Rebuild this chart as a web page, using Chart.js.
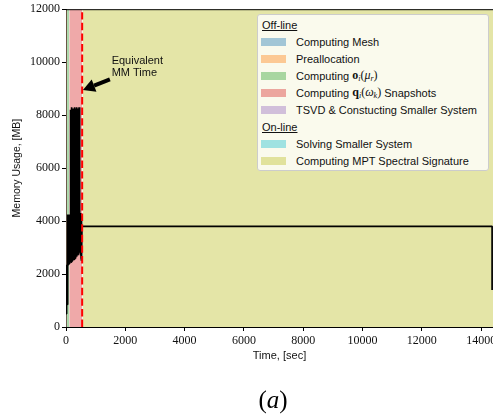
<!DOCTYPE html>
<html>
<head>
<meta charset="utf-8">
<script src="https://cdn.jsdelivr.net/npm/chart.js@4.4.1/dist/chart.umd.min.js"></script>
<style>
  body { margin: 0; background: #fff; }
  #wrap { position: relative; width: 493px; height: 419px; overflow: hidden; }
  #legend {
    position: absolute; left: 257px; top: 14px; width: 232px; height: 157px;
    box-sizing: border-box; border: 1px solid #cccccc; border-radius: 3px;
    background: #fafaed; padding-top: 1px;
    font-family: "Liberation Sans", sans-serif; font-size: 11px; color: #111;
  }
  .row { height: 17px; display: flex; align-items: center; white-space: nowrap; }
  .hd { padding-left: 4px; }
  .hd span { text-decoration: underline; }
  .sw { width: 25px; height: 8px; margin-left: 3px; margin-right: 10px; flex: none; }
  .m { font-family: "Liberation Serif", serif; font-size: 12px; margin-left: 3px; }
  .m b { font-weight: bold; }
  .m i { font-style: italic; }
  .m sub { font-size: 8px; font-style: italic; vertical-align: -2px; line-height: 0; }
  #cap {
    position: absolute; left: 273px; top: 385px; transform: translateX(-50%);
    font-family: "Liberation Serif", serif; font-size: 25px; line-height: 30px;
  }
  #cap i { font-style: italic; }
</style>
</head>
<body>
<div id="wrap">
  <canvas id="memory__chart" width="493" height="419"></canvas>
  <div id="legend"></div>
  <div id="cap">(<i>a</i>)</div>
</div>
<script>
// memory trace, time [sec] / usage [MB]
const MEM_TIME = [
  0, 10, 20, 30, 40, 50, 60, 70, 80, 90, 100, 110, 120, 130, 140, 150,
  160, 170, 180, 190, 200, 210, 220, 230, 240, 250, 260, 270, 280, 290, 300,
  310, 320, 330, 340, 350, 360, 370, 380, 390, 400, 410, 420, 430, 440, 450,
  460, 470, 480, 490, 500, 510, 520, 530, 540, 14370, 14370
];
const MEM_MB = [
  500, 2300, 650, 2350, 850, 2300, 4250, 2350, 4200, 2400, 4250, 2400, 4250, 2450, 4200, 2450,
  8200, 2450, 8250, 2450, 8300, 2500, 8250, 2500, 8200, 2550, 8250, 2550, 8300, 2600, 8250,
  2600, 8200, 2650, 8250, 2650, 8300, 2700, 8250, 2700, 8200, 2750, 8250, 2750, 8300, 2800,
  8250, 2800, 4250, 2700, 4300, 2600, 4200, 2500, 3800, 3800, 1400
];

// phases of the run (background spans)
const PHASES = [
  "Computing Mesh",
  "Preallocation",
  'Computing<span class="m"><b>o</b><sub>i</sub>(<i>μ</i><sub>r</sub>)</span>',
  'Computing<span class="m"><b>q</b><sub>i</sub>(<i>ω</i><sub>k</sub>)</span>&nbsp;Snapshots',
  "TSVD &amp; Constucting Smaller System",
  "Solving Smaller System",
  "Computing MPT Spectral Signature"
];
const PHASE_ONLINE = [false, false, false, false, false, true, true];
const PHASE_START = [0, 12, 35, 110, 540, 548, 555];
const PHASE_END = [12, 35, 110, 540, 548, 555, 14400];
const PHASE_COLORS = ["#a5c9e1", "#ffcc9f", "#abd9ab", "#efa9a9", "#d4c2e5", "#a2e5ec", "#e4e5a7"];
const LEGEND_COLORS = ["#a2c6d6", "#fcc994", "#a8d6a0", "#eca69e", "#d1bfda", "#9fe2e1", "#e1e29c"];

const MM_TIME = 545;
const X_TICKS = [0, 2000, 4000, 6000, 8000, 10000, 12000, 14000];
const X_MAX = 14400;
const Y_MAX = 12000;

// annotation placement (data coords)
const ARROW_TAIL = [1480, 9350];
const ARROW_TIP = [570, 8950];
const NOTE_AT = [1540, 10030];
const NOTE_LINES = ["Equivalent", "MM Time"];

const SERIF = '"Liberation Serif", "Times New Roman", serif';
const SANS = '"Liberation Sans", Arial, sans-serif';

// ================= LEGEND =================
const LEGEND = document.getElementById("legend");
let legendHtml = '<div class="row hd"><span>Off-line</span></div>';
PHASES.forEach((label, i) => {
  if (PHASE_ONLINE[i] && !PHASE_ONLINE[i - 1]) {
    legendHtml += '<div class="row hd"><span>On-line</span></div>';
  }
  legendHtml += `<div class="row"><span class="sw" style="background:${LEGEND_COLORS[i]}"></span>${label}</div>`;
});
LEGEND.innerHTML = legendHtml;

// ================= CHART =================
const datasets = [
  {
    label: "MM time",
    data: [{ x: MM_TIME, y: 0 }, { x: MM_TIME, y: Y_MAX }],
    borderColor: "#ff0000",
    borderWidth: 2,
    borderDash: [7.4, 3.2],
    pointRadius: 0,
    fill: false,
    order: 0,
  },
  {
    label: "Memory",
    data: MEM_TIME.map((t, i) => ({ x: t, y: MEM_MB[i] })),
    borderColor: "#000000",
    borderWidth: 1.7,
    borderJoinStyle: "bevel",
    pointRadius: 0,
    fill: false,
    order: 1,
  },
];

PHASES.forEach((label, i) => {
  datasets.push({
    label: label,
    data: [{ x: PHASE_START[i], y: Y_MAX }, { x: PHASE_END[i], y: Y_MAX }],
    borderWidth: 0,
    backgroundColor: PHASE_COLORS[i],
    fill: "origin",
    pointRadius: 0,
    order: 2,
  });
});

const annotate = {
  id: "annotate",
  afterDatasetsDraw(chart) {
    const { ctx, chartArea, scales } = chart;
    const x = scales.x;
    const y = scales.y;
    ctx.save();

    // top spine
    ctx.strokeStyle = "#000";
    ctx.lineWidth = 1;
    ctx.beginPath();
    ctx.moveTo(chartArea.left, chartArea.top + 0.5);
    ctx.lineTo(chartArea.right, chartArea.top + 0.5);
    ctx.stroke();

    // arrow
    const x0 = x.getPixelForValue(ARROW_TAIL[0]);
    const y0 = y.getPixelForValue(ARROW_TAIL[1]);
    const x1 = x.getPixelForValue(ARROW_TIP[0]);
    const y1 = y.getPixelForValue(ARROW_TIP[1]);
    const len = Math.hypot(x1 - x0, y1 - y0);
    const ux = (x1 - x0) / len;
    const uy = (y1 - y0) / len;
    const headLen = 12;
    const headHalf = 6.5;
    const bx = x1 - ux * headLen;
    const by = y1 - uy * headLen;
    ctx.strokeStyle = "#000";
    ctx.fillStyle = "#000";
    ctx.lineWidth = 4;
    ctx.beginPath();
    ctx.moveTo(x0, y0);
    ctx.lineTo(bx, by);
    ctx.stroke();
    ctx.beginPath();
    ctx.moveTo(x1, y1);
    ctx.lineTo(bx - uy * headHalf, by + ux * headHalf);
    ctx.lineTo(bx + uy * headHalf, by - ux * headHalf);
    ctx.closePath();
    ctx.fill();

    // note text
    ctx.font = "11px " + SANS;
    ctx.fillStyle = "#111";
    ctx.textAlign = "left";
    ctx.textBaseline = "middle";
    const tx = x.getPixelForValue(NOTE_AT[0]);
    const ty = y.getPixelForValue(NOTE_AT[1]);
    NOTE_LINES.forEach((line, i) => ctx.fillText(line, tx, ty + i * 11.5));

    ctx.restore();
  },
};

new Chart(document.getElementById("memory__chart"), {
  type: "line",
  data: { datasets },
  options: {
    responsive: false,
    animation: false,
    devicePixelRatio: 1,
    layout: {
      autoPadding: false,
      padding: { left: 0, top: 8, right: 0, bottom: 56 },
    },
    plugins: {
      legend: { display: false },
      tooltip: { enabled: false },
    },
    scales: {
      x: {
        type: "linear",
        min: 0,
        max: X_MAX,
        afterBuildTicks: (s) => {
          s.ticks = X_TICKS.map((v) => ({ value: v }));
        },
        afterFit: (s) => {
          s.height = 36;
          s.paddingRight = 0;
        },
        border: { display: true, color: "#000", width: 1 },
        grid: { drawOnChartArea: false, color: "#000", tickLength: 4 },
        ticks: {
          color: "#111",
          padding: 3,
          maxRotation: 0,
          font: { family: SERIF, size: 12 },
          callback: (v) => String(v),
        },
        title: {
          display: true,
          text: "Time, [sec]",
          color: "#111",
          padding: { top: 0, bottom: 0 },
          font: { family: SANS, size: 11 },
        },
      },
      y: {
        min: 0,
        max: Y_MAX,
        afterFit: (s) => {
          s.width = 66;
        },
        border: { display: true, color: "#000", width: 1 },
        grid: { drawOnChartArea: false, color: "#000", tickLength: 4 },
        ticks: {
          stepSize: 2000,
          color: "#111",
          padding: 2,
          font: { family: SERIF, size: 12 },
          callback: (v) => String(v),
        },
        title: {
          display: true,
          text: "Memory Usage, [MB]",
          color: "#111",
          padding: { top: 10.7, bottom: 0 },
          font: { family: SANS, size: 10.5 },
        },
      },
    },
  },
  plugins: [annotate],
});
</script>
</body>
</html>
